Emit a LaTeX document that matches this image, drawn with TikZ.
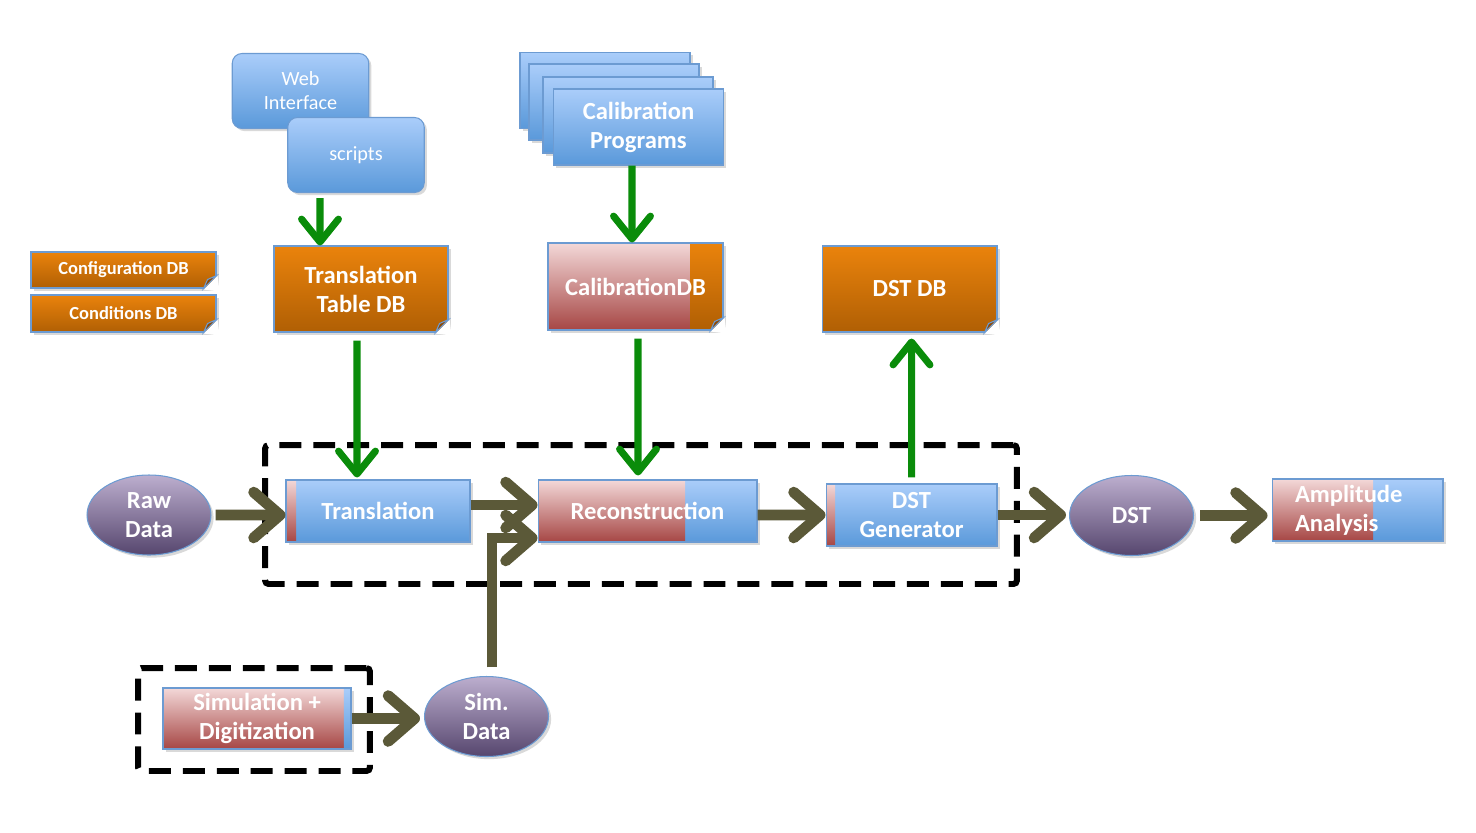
\documentclass[tikz,border=0pt]{standalone}
\usepackage{fontspec}
\setmainfont{Carlito}
\usetikzlibrary{shapes.geometric,arrows.meta,shadows}

\definecolor{boxblue}{RGB}{108,155,210}
\definecolor{bluetop}{RGB}{170,205,250}
\definecolor{bluebot}{RGB}{90,153,218}
\definecolor{orangetop}{RGB}{234,131,12}
\definecolor{orangebot}{RGB}{176,95,4}
\definecolor{redtop}{RGB}{243,216,216}
\definecolor{redbot}{RGB}{166,70,68}
\definecolor{purpletop}{RGB}{188,174,206}
\definecolor{purplebot}{RGB}{86,70,110}
\definecolor{flowgreen}{RGB}{10,140,10}
\definecolor{flowolive}{RGB}{91,89,56}
\definecolor{foldbrown}{RGB}{140,74,8}

\begin{document}
\begin{tikzpicture}[x=0.02cm, y=-0.02cm,
  box/.style={rectangle, draw=boxblue, line width=0.6pt, text=white, align=center,
    font=\bfseries\fontsize{14}{16.5}\selectfont, inner sep=2pt,
    drop shadow={opacity=0.3, shadow xshift=1.5pt, shadow yshift=-1.5pt}},
  bluebox/.style={box, top color=bluetop, bottom color=bluebot},
  orangebox/.style={box, top color=orangetop, bottom color=orangebot},
  redbox/.style={box, top color=redtop, bottom color=redbot},
  redpart/.style={path picture={\shade[top color=redtop, bottom color=redbot]
    (path picture bounding box.north west) rectangle ([xshift=#1]path picture bounding box.south west);}},
  bluepart/.style={path picture={\shade[top color=bluetop, bottom color=bluebot]
    ([xshift=-#1]path picture bounding box.north east) rectangle (path picture bounding box.south east);}},
  orangepart/.style={path picture={\shade[top color=orangetop, bottom color=orangebot]
    ([xshift=-#1]path picture bounding box.north east) rectangle (path picture bounding box.south east);}},
  smalldb/.style={orangebox, font=\bfseries\fontsize{10.5}{12}\selectfont, minimum width=3.7cm},
  bigbox/.style={minimum width=3.5cm, minimum height=1.72cm},
  stepbox/.style={minimum height=1.24cm},
  webbox/.style={bluebox, rounded corners=5.5pt, font=\fontsize{11.5}{13.6}\selectfont,
    minimum width=2.73cm, minimum height=1.5cm},
  datanode/.style={ellipse, draw=boxblue, line width=0.6pt, top color=purpletop, bottom color=purplebot,
    minimum width=2.48cm, minimum height=1.6cm, inner sep=0pt, text=white, align=center,
    font=\bfseries\fontsize{14}{16.5}\selectfont,
    drop shadow={opacity=0.3, shadow xshift=1.5pt, shadow yshift=-1.5pt}},
  groupframe/.style={draw=black, line width=3.4pt, dash pattern=on 12.5pt off 6.8pt,
    rounded corners=2pt, inner sep=0pt},
  greenflow/.style={draw=flowgreen, line width=4pt, -{Straight Barb[length=13pt, width=21pt, round]}},
  oliveflow/.style={draw=flowolive, line width=6.2pt, -{Straight Barb[length=15pt, width=26pt, round]}}]

\useasboundingbox (0,0) rectangle (1476,832);

% dashed groups
\node (procframe) [groupframe, minimum width=15.04cm, minimum height=2.78cm] at (641,514.5) {};
\node (simframe) [groupframe, minimum width=4.64cm, minimum height=2.06cm] at (254,719.5) {};

% inputs
\node (webif) [webbox] at (300.5,91) {Web\\Interface};
\node (scripts) [webbox] at (356,155) {scripts};
\foreach \cx/\cy [count=\i] in {605/90.5, 614/102, 628/115}
  \node (calcard\i) [bluebox, minimum width=3.4cm, minimum height=1.52cm] at (\cx,\cy) {};
\node (calprog) [bluebox, minimum width=3.4cm, minimum height=1.52cm] at (638.5,127) {Calibration\\Programs};

% databases
\node (confdb) [smalldb, minimum height=0.72cm] at (123.5,270) {Configuration DB};
\node (conddb) [smalldb, minimum height=0.74cm] at (123.5,313.5) {Conditions DB};
\node (ttdb) [orangebox, bigbox, minimum width=3.48cm] at (361,289) {Translation\\Table DB};
\node (caldb) [redbox, bigbox, orangepart=0.66cm, minimum height=1.74cm] at (635.5,286.5) {CalibrationDB};
\node (dstdb) [orangebox, bigbox] at (909.5,289) {DST DB};
\foreach \n in {confdb,conddb,ttdb,caldb,dstdb}{
  \fill[white] (\n.south east) +(-13,1) -- +(3,3) -- +(1,-13) -- cycle;
  \filldraw[fill=foldbrown, draw=boxblue, line width=0.6pt] (\n.south east) +(-13,0) -- +(-9,-9) -- +(0,-13) -- cycle;
}

% processing chain
\node (rawdata) [datanode] at (149,515) {Raw\\Data};
\node (trans) [bluebox, stepbox, redpart=0.2cm, minimum width=3.68cm] at (378,511) {Translation};
\node (reco) [bluebox, stepbox, redpart=2.94cm, minimum width=4.38cm] at (647.5,511) {Reconstruction};
\node (dstgen) [bluebox, stepbox, redpart=0.18cm, minimum width=3.42cm] at (911.5,515) {DST\\Generator};
\node (dst) [datanode] at (1131.5,515.5) {DST};
\node (ampl) [bluebox, stepbox, redpart=2.02cm, minimum width=3.42cm, text width=2.5cm, align=left] at (1357.5,510) {Amplitude\\Analysis};
\node (simdig) [redbox, bluepart=0.14cm, minimum width=3.76cm, minimum height=1.22cm] at (257,718.5) {Simulation +\\Digitization};
\node (simdata) [datanode] at (486.5,716.5) {Sim.\\Data};

% database links
\draw[greenflow] ([xshift=-0.72cm, yshift=-0.1cm]scripts.south) -- ([xshift=-0.82cm]ttdb.north);
\draw[greenflow] ([xshift=-0.13cm]calprog.south) -- ([xshift=-0.07cm]caldb.north);
\draw[greenflow] ([xshift=-0.08cm, yshift=-0.16cm]ttdb.south) -- ([xshift=-0.42cm, yshift=0.04cm]trans.north);
\draw[greenflow] ([xshift=0.05cm, yshift=-0.16cm]caldb.south) -- ([xshift=-0.19cm, yshift=0.08cm]reco.north);
\draw[greenflow] ([yshift=0.12cm]dstgen.north) -- ([xshift=0.04cm, yshift=-0.12cm]dstdb.south);

% data flow
\draw[oliveflow] ([xshift=0.08cm]rawdata.east) -- ([yshift=-0.08cm]trans.west);
\draw[oliveflow] ([yshift=0.12cm]trans.east) -- ([yshift=0.12cm]reco.west);
\draw[oliveflow] ([xshift=0.11cm, yshift=0.17cm]simdata.north) |- ([yshift=-0.54cm]reco.west);
\draw[oliveflow] ([yshift=-0.08cm]reco.east) -- (dstgen.west);
\draw[oliveflow, shorten >=0.06cm] (dstgen.east) -- (dstgen.east -| dst.west);
\draw[oliveflow, shorten <=0.12cm, shorten >=0.08cm] (dst.east) -- (dst.east -| ampl.west);
\draw[oliveflow, shorten >=0.08cm] (simdig.east) -- (simdig.east -| simdata.west);
\end{tikzpicture}
\end{document}
